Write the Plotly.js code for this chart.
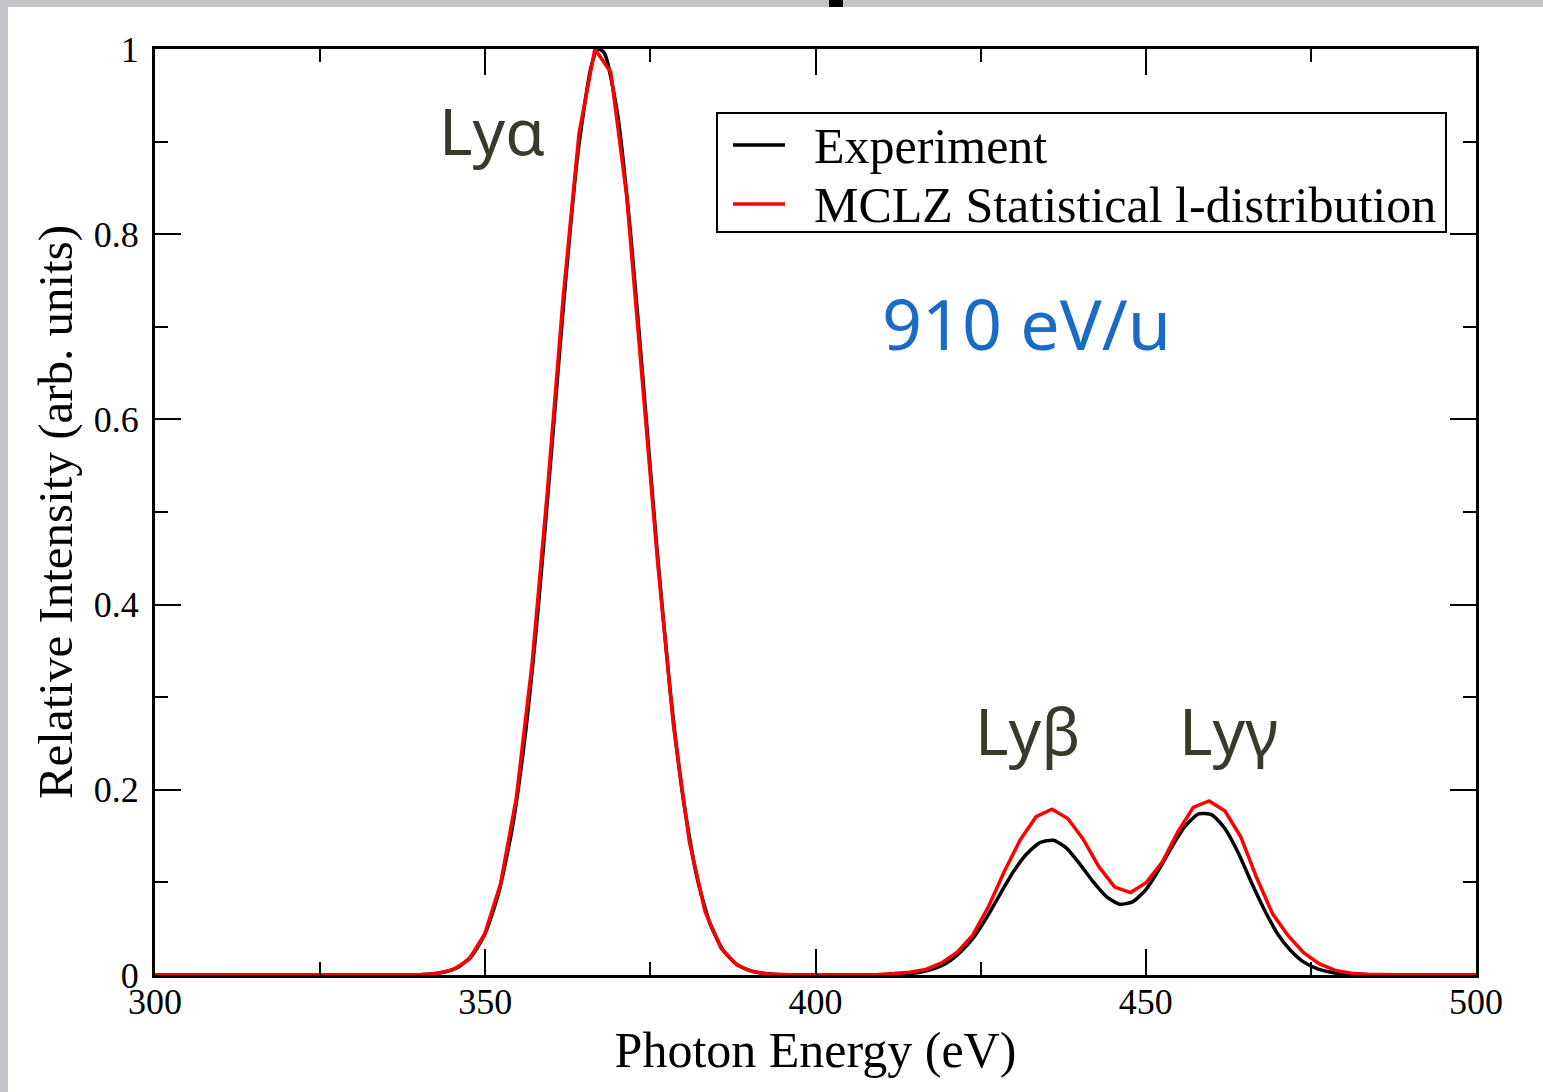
<!DOCTYPE html>
<html>
<head>
<meta charset="utf-8">
<script src="https://cdn.plot.ly/plotly-3.0.1.min.js"></script>
<style>
html,body{margin:0;padding:0;background:#c4c2c7;}
#chart{width:1543px;height:1092px;}
</style>
</head>
<body>
<div id="chart"></div>
<script>
// Experiment (black) — photon energy (eV) and relative intensity
const expEnergy = [300,310,320,330,336,338,340,342,344,346,348,350,352,354,356,358,360,362,364,366,367,368,370,372,374,376,378,380,382,384,386,388,390,392,394,396,398,400,404,408,410,412,414,416,418,420,422,424,426,428,430,432,434,436,438,440,442,444,446,448,450,452,454,456,458,460,462,464,466,468,470,472,474,476,478,480,482,484,486,490,500];
const expIntensity = [0,0,0,0,0,0.0001,0.0004,0.0012,0.0035,0.009,0.021,0.045,0.088,0.155,0.256,0.395,0.563,0.736,0.886,0.980,1.0,0.996,0.931,0.801,0.633,0.460,0.307,0.189,0.107,0.056,0.027,0.012,0.005,0.0018,0.0006,0.0002,0,0,0,0.0001,0.0002,0.0006,0.0014,0.0032,0.0068,0.0135,0.025,0.041,0.063,0.088,0.112,0.131,0.143,0.1455,0.137,0.120,0.101,0.085,0.0765,0.079,0.092,0.114,0.139,0.161,0.174,0.173,0.158,0.132,0.100,0.070,0.044,0.026,0.0136,0.0066,0.0029,0.0012,0.0004,0.0001,0,0,0];

// MCLZ Statistical l-distribution (red)
const mclzEnergy = [300.0,302.2,304.6,307.0,309.4,311.7,314.1,316.5,318.9,321.3,323.7,326.1,328.4,330.8,333.2,335.6,338.0,340.4,342.7,345.1,347.5,349.9,352.3,354.7,357.1,359.4,361.8,364.2,366.6,369.0,371.4,373.8,376.1,378.5,380.9,383.3,385.7,388.1,390.4,392.8,395.2,397.6,400.0,402.4,404.8,407.1,409.5,411.9,414.3,416.7,419.1,421.5,423.8,426.2,428.6,431.0,433.4,435.8,438.2,440.5,442.9,445.3,447.7,450.1,452.5,454.9,457.2,459.6,462.0,464.4,466.8,469.2,471.5,473.9,476.3,478.7,481.1,483.5,485.9,488.2,490.6,493.0,495.4,497.8,500.0];
const mclzIntensity = [0,0,0,0,0,0,0,0,0,0,0,0,0,0,0,0,0.0001,0.0005,0.0017,0.0057,0.0165,0.044,0.098,0.191,0.337,0.522,0.732,0.909,1.000,0.975,0.842,0.645,0.446,0.269,0.144,0.068,0.029,0.0107,0.0037,0.0011,0.0003,0.0001,0,0,0,0.0002,0.0005,0.0015,0.003,0.006,0.013,0.025,0.043,0.074,0.112,0.146,0.171,0.179,0.169,0.147,0.117,0.095,0.089,0.100,0.122,0.155,0.181,0.188,0.177,0.149,0.105,0.066,0.043,0.024,0.012,0.005,0.002,0.0008,0.0003,0.0001,0,0,0,0,0];

const seriesNames = ["Experiment", "MCLZ Statistical l-distribution"];
const seriesColors = ["#000000", "#ff0000"];
const xTickVals = [300,350,400,450,500];
const yTickVals = [0,0.2,0.4,0.6,0.8,1];
const yTickText = ["0","0.2","0.4","0.6","0.8","1"];
const lineLabels = ["Lyα","Lyβ","Lyγ"];
const energyLabel = "910 eV/u";

const serif = "Liberation Serif, Times New Roman, serif";
const sans = "Noto Sans, Open Sans, sans-serif";

const traces = [
  {x: expEnergy, y: expIntensity, name: seriesNames[0], type: "scatter", mode: "lines",
   line: {color: seriesColors[0], width: 3.5, shape: "spline", smoothing: 0.6}},
  {x: mclzEnergy, y: mclzIntensity, name: seriesNames[1], type: "scatter", mode: "lines",
   line: {color: seriesColors[1], width: 3.5}}
];

// pixel helpers for paper coordinates
const L = 155, R = 1476, T = 49, B = 975;
const px = v => (v - L) / (R - L);
const py = v => (B - v) / (B - T);

const axisCommon = {
  showline: true, linecolor: "#000", linewidth: 3, mirror: "allticks",
  ticks: "inside", ticklen: 26, tickwidth: 2, tickcolor: "#000",
  showgrid: false, zeroline: false,
  tickfont: {family: serif, size: 36, color: "#000"}
};

// legend box (drawn as a framed key) geometry in pixels
const legBox = {x0: 717, x1: 1446, y0: 113, y1: 232};
const legRows = [145, 204];
const legLine = [733, 785];
const legText = 812;

const shapes = [
  {type: "rect", xref: "paper", yref: "paper", layer: "below",
   x0: px(8), x1: px(1560), y0: py(1100), y1: py(7),
   fillcolor: "#ffffff", line: {width: 0}},
  {type: "rect", xref: "paper", yref: "paper", layer: "below",
   x0: px(829), x1: px(843), y0: py(7), y1: py(-2),
   fillcolor: "#000000", line: {width: 0}},
  {type: "rect", xref: "paper", yref: "paper", layer: "above",
   x0: px(legBox.x0), x1: px(legBox.x1), y0: py(legBox.y1), y1: py(legBox.y0),
   fillcolor: "#ffffff", line: {color: "#000", width: 2}}
];
const annotations = [
  {text: lineLabels[0], xref: "paper", yref: "paper", x: px(492), y: py(131),
   xanchor: "center", yanchor: "middle", showarrow: false,
   font: {family: sans, size: 64, color: "#3a3a2c"}},
  {text: lineLabels[1], xref: "paper", yref: "paper", x: px(1027), y: py(730),
   xanchor: "center", yanchor: "middle", showarrow: false,
   font: {family: sans, size: 64, color: "#3a3a2c"}},
  {text: lineLabels[2], xref: "paper", yref: "paper", x: px(1228), y: py(730),
   xanchor: "center", yanchor: "middle", showarrow: false,
   font: {family: sans, size: 64, color: "#3a3a2c"}},
  {text: energyLabel, xref: "paper", yref: "paper", x: px(1026), y: py(323),
   xanchor: "center", yanchor: "middle", showarrow: false,
   font: {family: sans, size: 70, color: "#1a6bc6"}}
];
seriesNames.forEach((nm, i) => {
  shapes.push({type: "line", xref: "paper", yref: "paper", layer: "above",
    x0: px(legLine[0]), x1: px(legLine[1]), y0: py(legRows[i]), y1: py(legRows[i]),
    line: {color: seriesColors[i], width: 3.5}});
  annotations.push({text: nm, xref: "paper", yref: "paper", x: px(legText), y: py(legRows[i] + 1),
    xanchor: "left", yanchor: "middle", showarrow: false,
    font: {family: serif, size: 50, color: "#000"}});
});

const layout = {
  width: 1543, height: 1092,
  margin: {l: L, r: 1543 - R, t: T, b: 1092 - B},
  paper_bgcolor: "#c4c2c7",
  plot_bgcolor: "#ffffff",
  showlegend: false,
  xaxis: Object.assign({}, axisCommon, {
    range: [300, 500], tickvals: xTickVals, ticktext: xTickVals.map(String),
    minor: {dtick: 25, ticklen: 13, tickwidth: 2, tickcolor: "#000", ticks: "inside"},
    ticklabelstandoff: -7,
    title: {text: "Photon Energy (eV)", font: {family: serif, size: 50, color: "#000"}, standoff: 1}
  }),
  yaxis: Object.assign({}, axisCommon, {
    range: [0, 1], tickvals: yTickVals, ticktext: yTickText,
    minor: {dtick: 0.1, ticklen: 13, tickwidth: 2, tickcolor: "#000", ticks: "inside"},
    ticklabelstandoff: 6,
    title: {text: "Relative Intensity (arb. units)", font: {family: serif, size: 49, color: "#000"}, standoff: 6}
  }),
  shapes: shapes,
  annotations: annotations
};

Plotly.newPlot("chart", traces, layout, {displayModeBar: false, staticPlot: true});
</script>
</body>
</html>
